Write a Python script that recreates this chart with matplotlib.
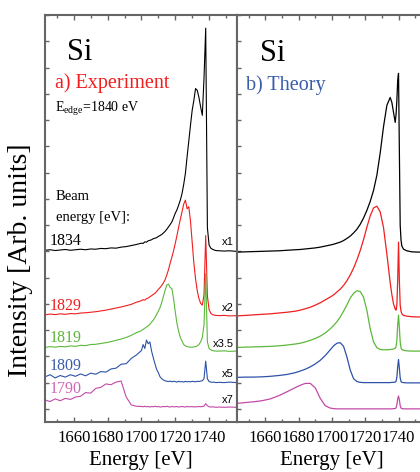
import matplotlib
matplotlib.use("Agg")
import matplotlib.pyplot as plt
from matplotlib.ticker import MultipleLocator

plt.rcParams['font.family'] = ['Liberation Serif', 'DejaVu Serif']
plt.rcParams['mathtext.fontset'] = 'custom'
plt.rcParams['mathtext.rm'] = 'Liberation Serif'

# Energy grid of the measured spectra (eV)
exp_energy = [1643, 1646, 1649, 1652, 1655, 1658, 1661, 1664, 1667, 1670,
              1673, 1676, 1679, 1682, 1685, 1688, 1691, 1694, 1697,
              1700, 1701, 1702, 1703, 1704, 1705, 1706, 1707, 1708, 1709,
              1710, 1711, 1712, 1713, 1714, 1715, 1716, 1717, 1718, 1719,
              1720, 1721, 1722, 1723, 1724, 1725, 1726, 1727, 1728, 1729,
              1730, 1731, 1732, 1733, 1734, 1735, 1736, 1737, 1738, 1739,
              1740, 1741, 1742, 1743, 1744,
              1746, 1749, 1752, 1756]

# Experiment (already scaled x1, x2, x3.5, x5, x7 and offset)
exp_1834 = [6.04, 6.06, 6.03, 6.05, 6.07, 6.04, 6.06, 6.08, 6.06, 6.09,
            6.08, 6.11, 6.10, 6.13, 6.12, 6.16, 6.18, 6.22, 6.26,
            6.31, 6.30, 6.36, 6.35, 6.40, 6.42, 6.44, 6.48, 6.50, 6.52,
            6.57, 6.60, 6.64, 6.70, 6.76, 6.84, 6.93, 7.02, 7.12, 7.28,
            7.45, 7.58, 7.76, 7.95, 8.20, 8.55, 8.97, 9.60, 10.2, 10.8,
            11.37, 11.75, 12.2, 12.13, 11.86, 11.5, 11.18, 12.6, 14.5, 6.9,
            6.24, 6.12, 6.08, 6.05, 6.03,
            6.02, 6.01, 6.02, 6.00]
exp_1829 = [3.58, 3.61, 3.59, 3.62, 3.60, 3.63, 3.62, 3.65, 3.66, 3.68,
            3.70, 3.73, 3.76, 3.80, 3.84, 3.88, 3.93, 3.98, 4.06,
            4.12, 4.16, 4.14, 4.20, 4.22, 4.27, 4.31, 4.36, 4.40, 4.47,
            4.55, 4.62, 4.70, 4.80, 4.92, 5.10, 5.30, 5.55, 5.78, 6.02,
            6.30, 6.60, 6.92, 7.22, 7.50, 7.80, 7.95, 7.62, 7.70, 7.15,
            6.35, 5.55, 4.95, 4.50, 4.20, 4.02, 3.95, 4.35, 6.60, 4.30,
            3.78, 3.64, 3.59, 3.57, 3.56,
            3.55, 3.56, 3.54, 3.55]
exp_1819 = [2.34, 2.37, 2.35, 2.38, 2.36, 2.40, 2.38, 2.42, 2.41, 2.45,
            2.46, 2.49, 2.52, 2.56, 2.61, 2.66, 2.72, 2.80, 2.90,
            2.98, 3.03, 3.07, 3.12, 3.16, 3.22, 3.30, 3.38, 3.48, 3.60,
            3.72, 3.86, 4.05, 4.28, 4.52, 4.72, 4.75, 4.62, 4.58, 4.20,
            3.70, 3.25, 2.95, 2.72, 2.58, 2.45, 2.40, 2.37, 2.36, 2.35,
            2.35, 2.36, 2.37, 2.40, 2.45, 2.55, 2.72, 3.20, 5.15, 2.55,
            2.30, 2.25, 2.22, 2.21, 2.20,
            2.20, 2.21, 2.19, 2.20]
exp_1809 = [1.22, 1.30, 1.18, 1.27, 1.21, 1.30, 1.24, 1.33, 1.26, 1.36,
            1.32, 1.42, 1.40, 1.52, 1.55, 1.70, 1.72, 1.92, 2.05,
            2.22, 2.45, 2.30, 2.62, 2.48, 2.55, 2.20, 1.95, 1.72, 1.50,
            1.38, 1.22, 1.15, 1.10, 1.07, 1.05, 1.04, 1.06, 1.03, 1.05,
            1.04, 1.02, 1.05, 1.03, 1.04, 1.02, 1.05, 1.03, 1.04, 1.03,
            1.05, 1.04, 1.03, 1.05, 1.04, 1.06, 1.07, 1.15, 1.82, 1.15,
            1.04, 1.02, 1.01, 1.02, 1.00,
            1.01, 1.00, 1.02, 1.00]
exp_1790 = [0.34, 0.28, 0.38, 0.31, 0.40, 0.36, 0.45, 0.48, 0.62, 0.60,
            0.78, 0.82, 0.95, 0.92, 1.02, 1.06, 0.45, 0.15, 0.10,
            0.09, 0.08, 0.10, 0.08, 0.09, 0.07, 0.09, 0.08, 0.10, 0.08,
            0.09, 0.07, 0.08, 0.09, 0.08, 0.10, 0.08, 0.07, 0.09, 0.08,
            0.08, 0.09, 0.07, 0.08, 0.09, 0.08, 0.07, 0.09, 0.08, 0.08,
            0.09, 0.07, 0.08, 0.08, 0.09, 0.08, 0.09, 0.10, 0.20, 0.12,
            0.08, 0.07, 0.08, 0.07, 0.06,
            0.07, 0.06, 0.07, 0.06]

# Energy grid of the calculated spectra (eV)
th_energy = [1643, 1648, 1653, 1658, 1663, 1668, 1673, 1678, 1681, 1684,
             1687, 1690, 1693, 1696, 1699, 1701, 1703, 1705, 1707, 1709,
             1711, 1713, 1715, 1717, 1719, 1721, 1723, 1725, 1727, 1729,
             1731, 1733, 1735, 1736, 1737, 1738, 1738.5, 1739, 1739.5, 1740,
             1740.5, 1741, 1741.5, 1742, 1743, 1745, 1748, 1752, 1756, 1760]

th_1834 = [5.97, 5.98, 5.99, 6.00, 6.01, 6.02, 6.04, 6.06, 6.07, 6.09,
           6.11, 6.13, 6.16, 6.20, 6.24, 6.27, 6.31, 6.35, 6.41, 6.49,
           6.58, 6.70, 6.84, 7.03, 7.27, 7.56, 7.90, 8.32, 8.90, 9.75,
           10.75, 11.56, 11.86, 11.67, 11.29, 10.91, 11.2, 11.75, 12.5, 12.78,
           9.85, 7.00, 6.43, 6.20, 6.08, 6.02, 5.98, 5.97, 5.97, 5.97]
th_1829 = [3.54, 3.56, 3.58, 3.60, 3.62, 3.65, 3.68, 3.72, 3.76, 3.81,
           3.87, 3.95, 4.04, 4.15, 4.26, 4.34, 4.45, 4.56, 4.70, 4.88,
           5.10, 5.36, 5.67, 6.03, 6.45, 6.92, 7.35, 7.65, 7.72, 7.50,
           6.90, 5.90, 4.80, 4.35, 4.00, 3.80, 3.76, 3.95, 4.90, 6.35,
           4.90, 3.95, 3.72, 3.62, 3.56, 3.53, 3.51, 3.50, 3.50, 3.50]
th_1819 = [2.34, 2.35, 2.36, 2.37, 2.38, 2.40, 2.43, 2.47, 2.50, 2.55,
           2.61, 2.68, 2.77, 2.89, 3.05, 3.17, 3.32, 3.50, 3.72, 3.96,
           4.22, 4.40, 4.50, 4.47, 4.25, 3.75, 3.05, 2.55, 2.33, 2.26,
           2.25, 2.25, 2.26, 2.27, 2.28, 2.31, 2.36, 2.60, 3.20, 3.57,
           3.10, 2.55, 2.32, 2.26, 2.23, 2.21, 2.20, 2.20, 2.20, 2.20]
th_1809 = [1.20, 1.21, 1.21, 1.22, 1.24, 1.27, 1.31, 1.38, 1.44, 1.51,
           1.60, 1.71, 1.85, 2.03, 2.25, 2.40, 2.50, 2.52, 2.38, 1.98,
           1.48, 1.15, 1.04, 1.01, 1.00, 1.00, 1.00, 1.00, 1.00, 1.00,
           1.00, 1.00, 1.00, 1.01, 1.01, 1.02, 1.05, 1.20, 1.60, 1.88,
           1.55, 1.18, 1.04, 1.01, 1.00, 0.99, 0.99, 0.99, 0.99, 0.99]
th_1790 = [0.21, 0.24, 0.27, 0.31, 0.38, 0.50, 0.65, 0.81, 0.90, 0.97,
           0.97, 0.80, 0.40, 0.12, 0.03, 0.01, 0.00, 0.00, 0.00, 0.00,
           0.00, 0.00, 0.00, 0.00, 0.00, 0.00, 0.00, 0.00, 0.00, 0.00,
           0.00, 0.00, 0.00, 0.00, 0.01, 0.01, 0.04, 0.15, 0.38, 0.49,
           0.35, 0.12, 0.03, 0.01, 0.00, 0.00, 0.00, 0.00, 0.00, 0.00]

beam_labels = ["1834", "1829", "1819", "1809", "1790"]
scale_labels = ["x1", "x2", "x3.5", "x5", "x7"]
colors = ["black", "#f01e1e", "#5cb83a", "#2d52a8", "#c24aa6"]
label_colors = ["black", "#f01e1e", "#5cb83a", "#3a5dab", "#d066b6"]

exp_curves = [exp_1834, exp_1829, exp_1819, exp_1809, exp_1790]
th_curves = [th_1834, th_1829, th_1819, th_1809, th_1790]

# label positions (axes fraction)
beam_y = [0.435, 0.275, 0.197, 0.128, 0.071]
scale_y = [0.435, 0.273, 0.185, 0.111, 0.047]

fig = plt.figure(figsize=(4.2, 4.72), dpi=100)
ax1 = fig.add_axes([45/420, 50/472, 192/420, 407/472])
ax2 = fig.add_axes([237/420, 50/472, 189/420, 407/472])

for ax in (ax1, ax2):
    ax.set_xlim(1643, 1756.5)
    ax.set_ylim(-0.5, 15)
    ax.xaxis.set_major_locator(MultipleLocator(20))
    ax.xaxis.set_minor_locator(MultipleLocator(10))
    ax.yaxis.set_major_locator(MultipleLocator(1))
    ax.set_yticklabels([])
    ax.tick_params(axis="x", which="both", direction="in", top=True,
                   colors="#666666", labelcolor="black", labelsize=12, pad=6)
    ax.tick_params(axis="x", which="major", length=3.5, width=1)
    ax.tick_params(axis="x", which="minor", length=2.2, width=1)
    ax.tick_params(axis="y", direction="in", length=3, width=1, colors="#666666")
    for s in ax.spines.values():
        s.set_color("#666666")
        s.set_linewidth(1.5)
    ax.set_xlabel("Energy [eV]", fontsize=15, labelpad=3)
ax1.tick_params(axis="y", right=False)
ax2.tick_params(axis="y", right=True)

for y, c in zip(exp_curves, colors):
    ax1.plot(exp_energy, y, color=c, lw=0.8)
for y, c in zip(th_curves, colors):
    ax2.plot(th_energy, y, color=c, lw=0.9)

ax1.text(0.115, 0.889, "Si", transform=ax1.transAxes, fontsize=22)
ax1.text(0.052, 0.821, "a) Experiment", transform=ax1.transAxes,
         fontsize=14.5, color="#f01e1e")
ax1.text(0.052, 0.762, r"E$_{\mathrm{edge}}$=1840 eV", transform=ax1.transAxes,
         fontsize=10)
ax1.text(0.055, 0.545, "Beam", transform=ax1.transAxes, fontsize=10.5)
ax1.text(0.055, 0.494, "energy [eV]:", transform=ax1.transAxes, fontsize=10.5)

for lab, yy, c in zip(beam_labels, beam_y, label_colors):
    ax1.text(0.025, yy, lab, transform=ax1.transAxes, fontsize=11.5, color=c)
for lab, yy in zip(scale_labels, scale_y):
    ax1.text(0.985, yy, lab, transform=ax1.transAxes, fontsize=8, ha="right",
             family="Liberation Sans")

ax2.text(0.122, 0.887, "Si", transform=ax2.transAxes, fontsize=22)
ax2.text(0.048, 0.816, "b) Theory", transform=ax2.transAxes,
         fontsize=14.5, color="#3a5dab")

fig.text(21/420, 1 - 260/472, "Intensity [Arb. units]", rotation=90,
         ha="center", va="center", fontsize=20)

fig.savefig("out.png", dpi=100)
